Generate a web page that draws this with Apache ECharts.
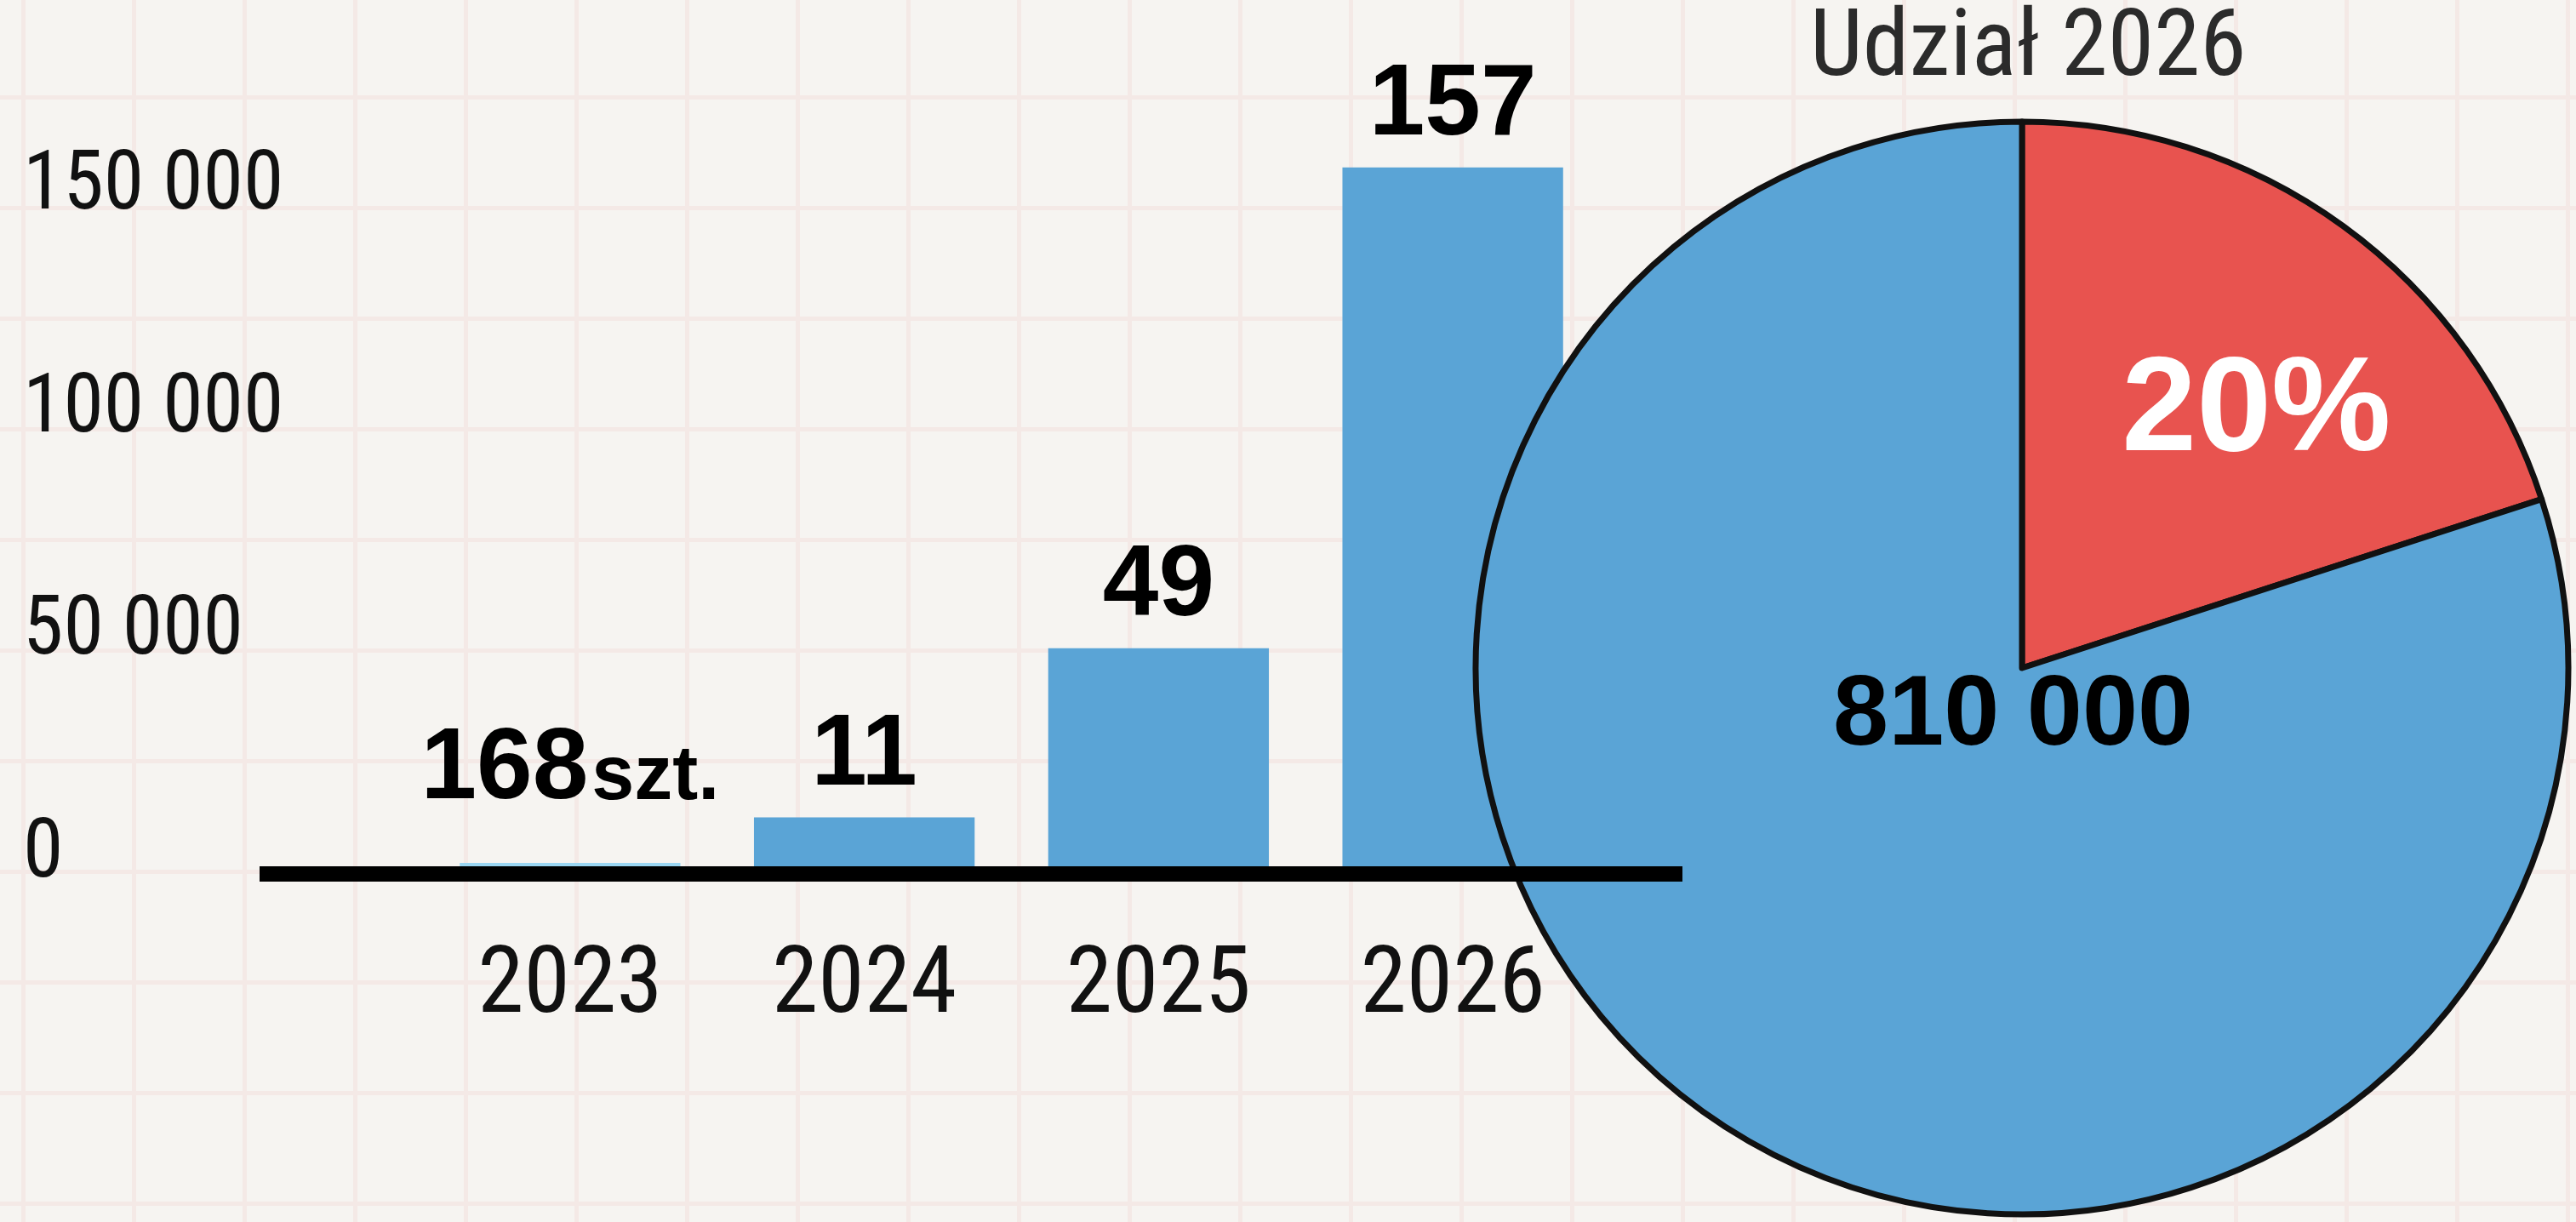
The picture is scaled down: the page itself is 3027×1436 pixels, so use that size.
<!DOCTYPE html>
<html>
<head>
<meta charset="utf-8">
<script src="https://cdn.jsdelivr.net/npm/echarts@6/dist/echarts.min.js"></script>
<style>
    html, body { margin: 0; padding: 0; }
    #chart {
        width: 3027px;
        height: 1436px;
        background-color: #f6f4f1;
        background-image: linear-gradient(to right, #f4e9e6 5px, transparent 5px),
                          linear-gradient(to bottom, #f4e9e6 5px, transparent 5px);
        background-size: 130px 130px;
        background-position: 25px 112px;
    }
</style>
</head>
<body>
<div id="chart"></div>
<script>
    // sprzedaz wg lat
    var years = ['2023', '2024', '2025', '2026'];
    var salesValues = [168, 11000, 49000, 157000];
    var salesLabels = ['168 szt.', '11', '49', '157'];
    var yTicks = [0, 50000, 100000, 150000];

    // udzial 2026
    var pieTitle = 'Udział 2026';
    var pieNames = ['Elektryczne', 'Pozostałe'];
    var pieValues = [20, 80];
    var pieLabels = ['20%', '810 000'];

    var heavy = "'Liberation Sans', Arial, sans-serif";
    var blue = '#5aa4d6';
    var red = '#e8534f';

    function spaced(v) {
        return String(v).replace(/\B(?=(\d{3})+(?!\d))/g, ' ');
    }

    var chart = echarts.init(document.getElementById('chart'));

    var option = {
        animation: false,
        title: {
            text: pieTitle,
            left: 2122,
            top: 0,
            textStyle: {fontFamily: 'Roboto', fontStyle: 'semi-condensed', fontSize: 110, fontWeight: 'normal', color: '#2b2b2b'}
        },
        grid: [
            {left: 497, right: 1147, top: 181, bottom: 418},
            {left: 305, right: 1050, top: 181, bottom: 409}
        ],
        xAxis: [
            {
                type: 'category',
                gridIndex: 0,
                data: years,
                z: 5,
                axisLine: {show: false},
                axisTick: {show: false},
                axisLabel: {
                    margin: 143,
                    verticalAlign: 'middle',
                    fontFamily: 'Roboto',
                    fontStyle: 'semi-condensed',
                    fontSize: 110,
                    color: '#111'
                }
            },
            {
                type: 'value',
                gridIndex: 1,
                min: 0,
                max: 1,
                z: 5,
                axisLine: {show: true, onZero: false, lineStyle: {color: '#000', width: 18, cap: 'butt'}},
                axisTick: {show: false},
                axisLabel: {show: false},
                splitLine: {show: false}
            }
        ],
        yAxis: [
            {
                type: 'value',
                gridIndex: 0,
                min: 0,
                max: 160000,
                interval: 50000,
                axisLine: {show: false},
                axisTick: {show: false},
                splitLine: {show: false},
                axisLabel: {
                    margin: 470,
                    align: 'left',
                    verticalAlign: 'bottom',
                    lineHeight: 24,
                    fontFamily: 'Roboto',
                    fontStyle: 'semi-condensed',
                    fontSize: 96,
                    color: '#111',
                    formatter: function (v) {
                        return yTicks.indexOf(v) >= 0 ? spaced(v) : '';
                    }
                }
            },
            {type: 'value', gridIndex: 1, show: false, min: 0, max: 1}
        ],
        series: [
            {
                type: 'bar',
                xAxisIndex: 0,
                yAxisIndex: 0,
                z: 1,
                barCategoryGap: '25%',
                barMinHeight: 4,
                itemStyle: {color: blue},
                data: salesValues.map(function (v, i) {
                    var item = {value: v};
                    if (i === 0) {
                        item.itemStyle = {color: '#9ad6f2'};
                        item.label = {distance: 50};
                    }
                    return item;
                }),
                label: {
                    show: true,
                    position: 'top',
                    distance: 12,
                    formatter: function (p) {
                        var t = salesLabels[p.dataIndex].split(' ');
                        return t.length > 1 ? '{big|' + t[0] + '}{small|' + t[1] + '}' : '{big|' + t[0] + '}';
                    },
                    rich: {
                        big: {fontFamily: heavy, fontWeight: 'bold', fontSize: 118, color: '#000'},
                        small: {fontFamily: heavy, fontWeight: 'bold', fontSize: 90, color: '#000',
                            verticalAlign: 'bottom', padding: [0, 0, 5, 4]}
                    }
                }
            },
            {
                type: 'pie',
                z: 2,
                center: [2376, 785],
                radius: 642,
                startAngle: 90,
                clockwise: true,
                avoidLabelOverlap: false,
                silent: true,
                itemStyle: {borderColor: '#111', borderWidth: 7, borderJoin: 'round'},
                label: {
                    show: true,
                    position: 'inside',
                    fontFamily: heavy,
                    fontWeight: 'bold',
                    formatter: function (p) {
                        return pieLabels[p.dataIndex];
                    }
                },
                labelLine: {show: false},
                labelLayout: function (p) {
                    return p.dataIndex === 0 ? {dx: 85, dy: -37} : {dx: 180, dy: -204};
                },
                data: pieValues.map(function (v, i) {
                    return {
                        value: v,
                        name: pieNames[i],
                        itemStyle: {color: i === 0 ? red : blue},
                        label: i === 0 ? {color: '#fff', fontSize: 158} : {color: '#000', fontSize: 117}
                    };
                })
            }
        ]
    };

    chart.setOption(option);
</script>
</body>
</html>
